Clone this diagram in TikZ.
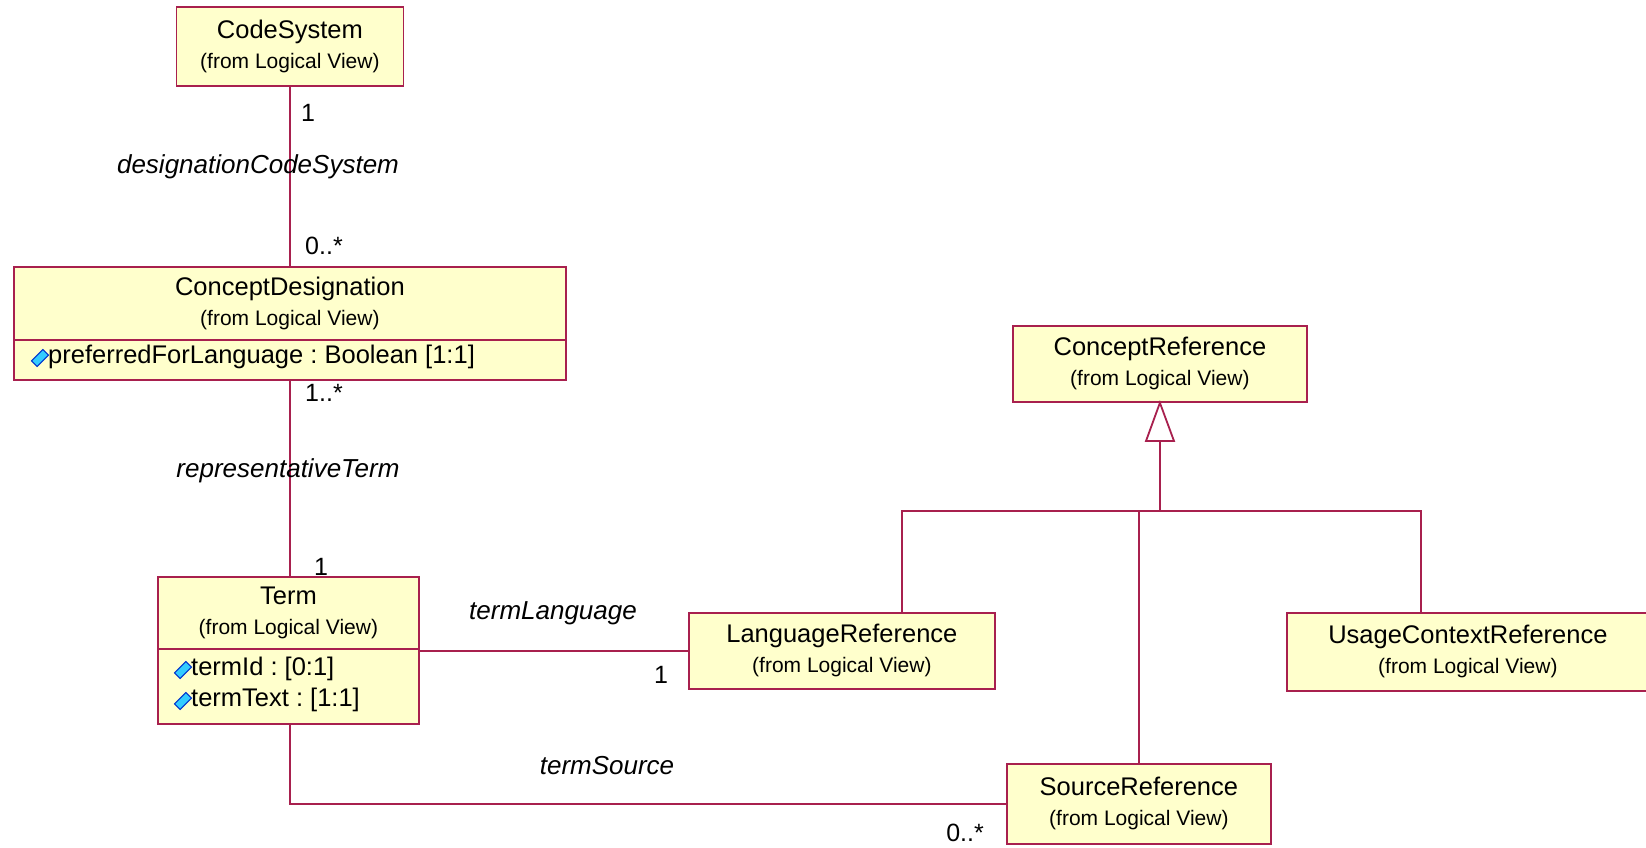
\documentclass[tikz,border=0pt]{standalone}
\usepackage{fontspec}
\setmainfont{Liberation Sans}
\usetikzlibrary{calc}
\definecolor{boxfill}{HTML}{FFFFCC}
\definecolor{boxline}{HTML}{A8204E}
\definecolor{iconfill}{HTML}{33CCFF}
\definecolor{iconline}{HTML}{0033CC}
\newcommand{\fromlv}{{\fontsize{21}{21}\selectfont (from Logical View)}}
\frenchspacing
\begin{document}
\begin{tikzpicture}[x=1pt,y=-1pt,
  cls/.style={draw=boxline, fill=boxfill, line width=1.8pt, inner sep=0pt, align=center,
    font=\fontsize{25.5}{30}\selectfont, anchor=north west},
  attrbox/.style={draw=boxline, fill=boxfill, line width=1.8pt, inner sep=0pt, anchor=north west},
  conn/.style={draw=boxline, line width=1.8pt},
  lbl/.style={font=\fontsize{25}{28}\selectfont, inner sep=0pt},
  rolelbl/.style={font=\fontsize{26}{28}\selectfont\itshape, inner sep=0pt},
  attr/.style={font=\fontsize{25.5}{28}\selectfont, inner sep=0pt, anchor=west},
  icon/.style={draw=iconline, fill=iconfill, line width=1pt, minimum width=16pt, minimum height=8pt, inner sep=0pt, rotate=45},
]
\useasboundingbox (0,0) rectangle (1646,847);
\fill[white] (0,0) rectangle (1646,847);

% classes
\node[cls, minimum width=227pt, minimum height=79pt] (cs) at (175.5,6) {CodeSystem\\\fromlv};

\node[cls, minimum width=552pt, minimum height=73pt] (cd) at (13,266) {ConceptDesignation\\\fromlv};
\node[attrbox, minimum width=552pt, minimum height=40pt] (cda) at (13,339) {};
\node[icon] (cdi) at (40,358) {};
\node[attr] (cdt) at (48,357) {preferredForLanguage : Boolean [1:1]};

\node[cls, minimum width=261pt, minimum height=72pt] (tm) at (157,576) {Term\\\fromlv};
\node[attrbox, minimum width=261pt, minimum height=75pt] (tma) at (157,648) {};
\node[icon] (tmi1) at (183,670) {};
\node[attr] (tmt1) at (191,669) {termId : [0:1]};
\node[icon] (tmi2) at (183,701) {};
\node[attr] (tmt2) at (191,700) {termText : [1:1]};

\node[cls, minimum width=306pt, minimum height=76pt] (lr) at (688,612) {LanguageReference\\\fromlv};
\node[cls, minimum width=294pt, minimum height=76pt] (cr) at (1012,325) {ConceptReference\\\fromlv};
\node[cls, minimum width=362pt, minimum height=78pt] (ucr) at (1286,612) {UsageContextReference\\\fromlv};
\node[cls, minimum width=264pt, minimum height=80pt] (sr) at (1006,763) {SourceReference\\\fromlv};

% associations
\draw[conn] (cs.south) -- (cd.north);
\draw[conn] (cda.south) -- (cda.south |- tm.north);
\draw[conn] (lr.west) -- (lr.west -| tma.east);
\draw[conn] (cda.south |- tma.south) |- (sr.west);

% generalization
\coordinate (gen) at (1160,511);
\coordinate (trib) at (1160,441);
\draw[conn, fill=white] (cr.south) -- ($(trib)+(-14,0)$) -- ($(trib)+(14,0)$) -- cycle;
\draw[conn] (trib) -- (gen);
\draw[conn] (gen) -| ($(lr.north)+(60,0)$);
\draw[conn] (gen) -| ($(ucr.north)+(-47,0)$);
\draw[conn] (sr.north |- gen) -- (sr.north);

% labels
\node[lbl] (m1) at (308,113) {1};
\node[rolelbl] (r1) at (258,167) {designationCodeSystem};
\node[lbl] (m2) at (324,246) {0..*};
\node[lbl] (m3) at (324,393) {1..*};
\node[rolelbl] (r2) at (288,471) {representativeTerm};
\node[lbl] (m4) at (321,567) {1};
\node[rolelbl] (r3) at (553,613) {termLanguage};
\node[lbl] (m5) at (661,675) {1};
\node[rolelbl] (r4) at (607,766) {termSource};
\node[lbl] (m6) at (965,833) {0..*};
\end{tikzpicture}
\end{document}
